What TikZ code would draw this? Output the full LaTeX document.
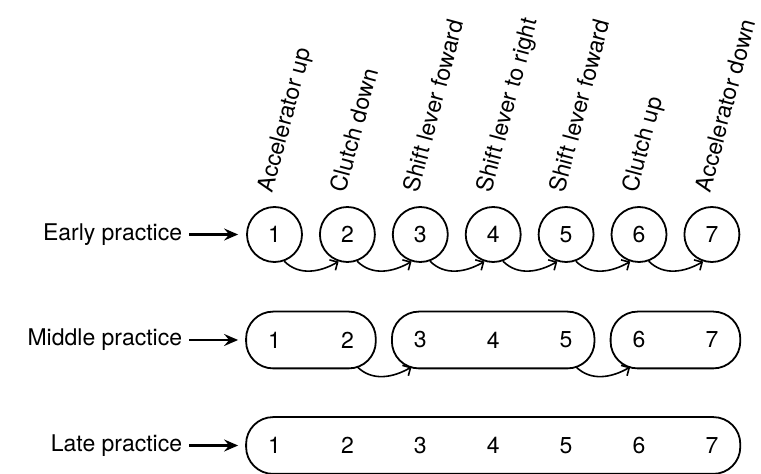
\documentclass[tikz,border=0pt]{standalone}
\usepackage{fontspec}
\setmainfont{TeX Gyre Heros}
\usetikzlibrary{arrows.meta,fit,calc,positioning}

\begin{document}
\begin{tikzpicture}[x=1pt, y=1pt, line width=1.8pt, font=\fontsize{23}{27}\selectfont,
    act/.style={circle, minimum size=55pt, inner sep=0pt},
    grp/.style={draw, rounded corners=27pt, inner sep=0pt},
    link/.style={-{Straight Barb[length=6pt,width=12pt]}, line width=1.6pt},
    rowlabel/.style={anchor=east, inner sep=6pt},
    rowarr/.style={-{Stealth[length=14pt,width=12pt,inset=5pt]}, line width=2.2pt, shorten >=8pt}]
  \useasboundingbox (0,0) rectangle (761,474);

  % the seven actions, one column each
  \foreach \txt [count=\i] in {Accelerator up, Clutch down, Shift lever foward, Shift lever to right, Shift lever foward, Clutch up, Accelerator down}{
    \node[act, draw] (e\i) at ({274.5+72.9*(\i-1)}, 239.5) {\i};
    \node[act] (m\i) at ({274.5+72.9*(\i-1)}, 134) {\i};
    \node[act] (l\i) at ({274.5+72.9*(\i-1)}, 28.5) {\i};
    \node[rotate=75, anchor=base west, inner sep=0pt] (t\i) at ($(e\i.north)+(-2,12)$) {\txt};
  }

  % chunks
  \node[grp, fit=(m1)(m2)] (g1) {};
  \node[grp, fit=(m3)(m5)] (g2) {};
  \node[grp, fit=(m6)(m7)] (g3) {};
  \node[grp, fit=(l1)(l7)] (g4) {};

  \foreach \i [evaluate=\i as \j using int(\i+1)] in {1,...,6}
    \draw[link] (e\i.-70) to[out=-45, in=-150] (e\j.-108);
  \draw[link] (m2.-70) to[out=-45, in=-150] (m3.-108);
  \draw[link] (m5.-70) to[out=-45, in=-150] (m6.-108);

  % row labels
  \node[rowlabel] (early) at (189, 239.5) {Early practice};
  \node[rowlabel] (middle) at (189, 134) {Middle practice};
  \node[rowlabel] (late) at (189, 28.5) {Late practice};
  \draw[rowarr] (early) -- (e1);
  \draw[rowarr] (middle) -- (m1);
  \draw[rowarr] (late) -- (l1);
\end{tikzpicture}
\end{document}
